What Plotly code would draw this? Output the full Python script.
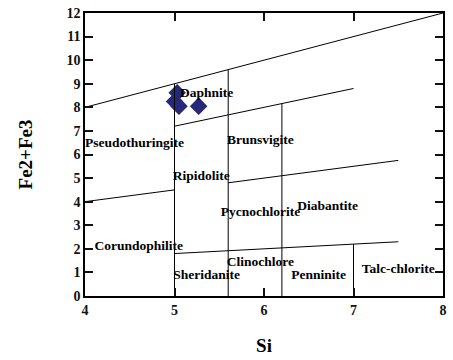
import plotly.graph_objects as go

# Sample points (Si, Fe2+Fe3)
si_values = [5.03, 5.00, 5.05, 5.27]
fe_values = [8.62, 8.25, 8.05, 8.05]

# Field boundaries of the chlorite classification diagram (x pairs, y pairs)
boundary_x = [
    [4.0, 8.0],
    [5.0, 7.0],
    [4.0, 5.0],
    [5.6, 7.5],
    [5.0, 7.5],
    [5.0, 5.0],
    [5.6, 5.6],
    [6.2, 6.2],
    [7.0, 7.0],
]
boundary_y = [
    [8.0, 12.0],
    [7.2, 8.8],
    [4.0, 4.5],
    [4.8, 5.75],
    [1.8, 2.3],
    [0.0, 9.0],
    [0.0, 9.6],
    [0.0, 8.16],
    [0.0, 2.2],
]

# Field names and label positions
field_names = ["Daphnite", "Pseudothuringite", "Brunsvigite", "Ripidolite",
               "Pycnochlorite", "Diabantite", "Corundophilite", "Clinochlore",
               "Sheridanite", "Penninite", "Talc-chlorite"]
label_x = [5.36, 4.0, 5.96, 5.30, 5.96, 6.71, 4.60, 5.96, 5.36, 6.61, 7.50]
label_y = [8.6, 6.48, 6.6, 5.08, 3.53, 3.81, 2.09, 1.43, 0.86, 0.85, 1.1]
label_pos = ["middle center", "middle right", "middle center", "middle center",
             "middle center", "middle center", "middle center", "middle center",
             "middle center", "middle center", "middle center"]

FONT = "Liberation Serif"

line_x, line_y = [], []
for bx, by in zip(boundary_x, boundary_y):
    line_x += bx + [None]
    line_y += by + [None]

fig = go.Figure()

fig.add_trace(go.Scatter(x=si_values, y=fe_values, mode="markers",
                         marker=dict(symbol="diamond", size=13.5, color="#282878"),
                         showlegend=False))

fig.add_trace(go.Scatter(x=line_x, y=line_y, mode="lines",
                         line=dict(color="black", width=1),
                         showlegend=False))

fig.add_trace(go.Scatter(x=label_x, y=label_y, mode="text", text=field_names,
                         textposition=label_pos,
                         textfont=dict(family=FONT, size=13.5, color="black", weight="bold"),
                         showlegend=False))

fig.update_layout(
    width=453, height=360,
    margin=dict(l=85, r=6, t=13, b=64),
    paper_bgcolor="white", plot_bgcolor="white",
    xaxis=dict(range=[4, 8], dtick=1,
               ticks="inside", ticklen=8, tickwidth=2, tickcolor="#111111",
               showline=True, linecolor="black", linewidth=1.5, mirror="ticks",
               showgrid=False, zeroline=False,
               tickfont=dict(family=FONT, size=14, color="#111111", weight="bold"),
               title=dict(text="Si", standoff=22,
                          font=dict(family=FONT, size=19, color="black", weight="bold"))),
    yaxis=dict(range=[0, 12], dtick=1,
               ticks="inside", ticklen=8, tickwidth=2, tickcolor="#111111",
               showline=True, linecolor="black", linewidth=1.5, mirror="ticks",
               showgrid=False, zeroline=False,
               tickfont=dict(family=FONT, size=14, color="#111111", weight="bold"),
               title=dict(text="Fe2+Fe3", standoff=29,
                          font=dict(family=FONT, size=19, color="black", weight="bold"))),
)

fig.write_html("out.html")
